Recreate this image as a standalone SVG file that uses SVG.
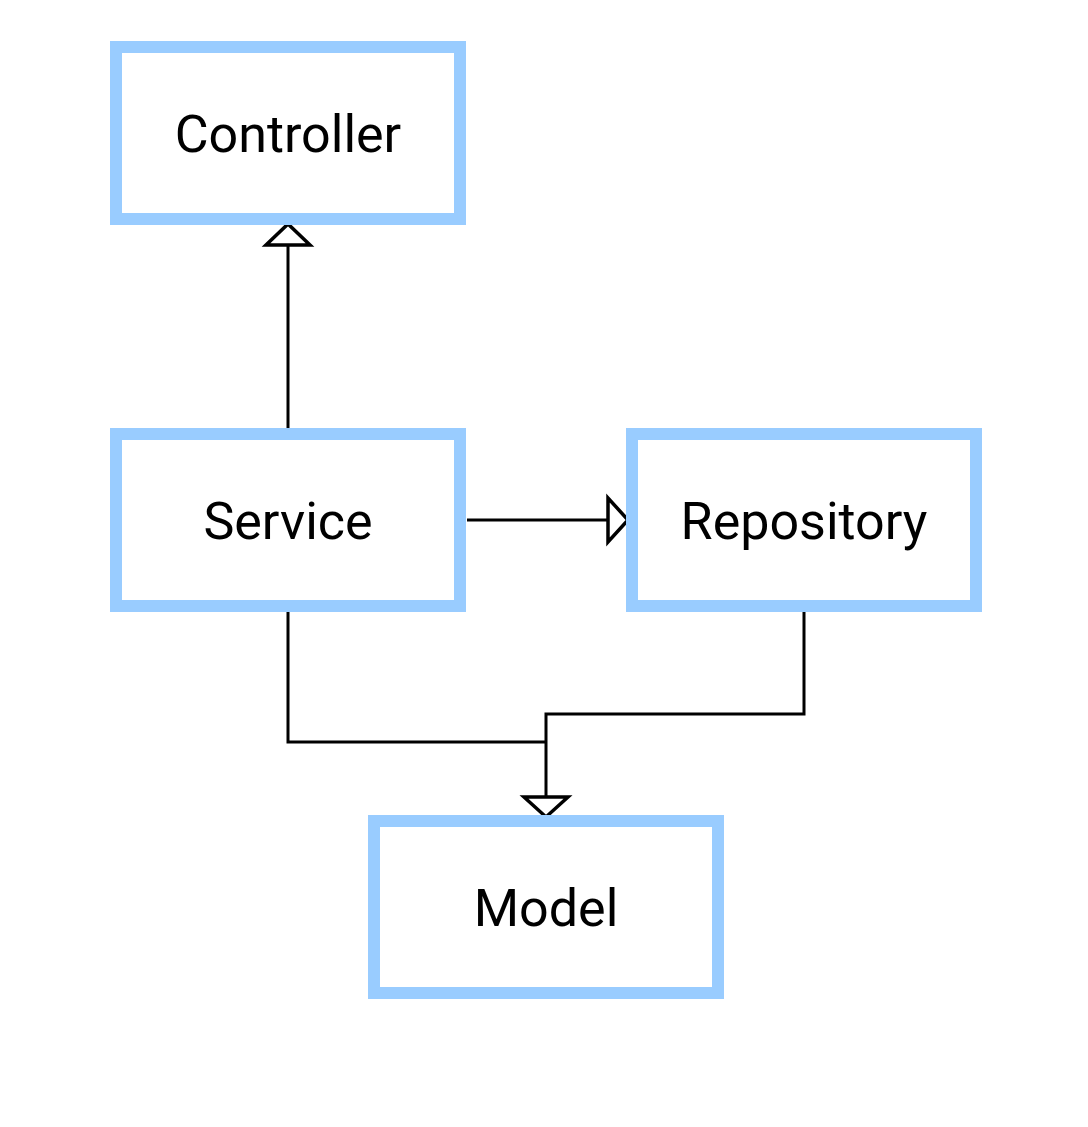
<svg xmlns="http://www.w3.org/2000/svg" width="1088" height="1127" viewBox="0 0 1088 1127">
<style>
.box{fill:#fff;stroke:#99ccff;stroke-width:12}
.lbl{font-family:Roboto,"Liberation Sans",sans-serif;font-size:52px;fill:#000;text-anchor:middle}
.edge{fill:none;stroke:#000;stroke-width:3}
.head{fill:#fff;stroke:#000;stroke-width:3.5}
</style>
<rect width="1088" height="1127" fill="#fff"/>
<g id="connectors">
<path class="edge" d="M288,428 V245"/>
<path class="head" d="M266,245 L310,245 L288,224 Z"/>
<path class="edge" d="M467,520 H608"/>
<path class="head" d="M608,498 L608,542 L628,520 Z"/>
<path class="edge" d="M288,612 V742 H546"/>
<path class="edge" d="M804,612 V714 H546 V797"/>
<path class="head" d="M524,797 L568,797 L546,817 Z"/>
</g>
<g id="controller">
<rect class="box" x="116" y="47" width="344" height="172"/>
<text class="lbl" x="288" y="152">Controller</text>
</g>
<g id="service">
<rect class="box" x="116" y="434" width="344" height="172"/>
<text class="lbl" x="288" y="539">Service</text>
</g>
<g id="repository">
<rect class="box" x="632" y="434" width="344" height="172"/>
<text class="lbl" x="804" y="539">Repository</text>
</g>
<g id="model">
<rect class="box" x="374" y="821" width="344" height="172"/>
<text class="lbl" x="546" y="926">Model</text>
</g>
</svg>
